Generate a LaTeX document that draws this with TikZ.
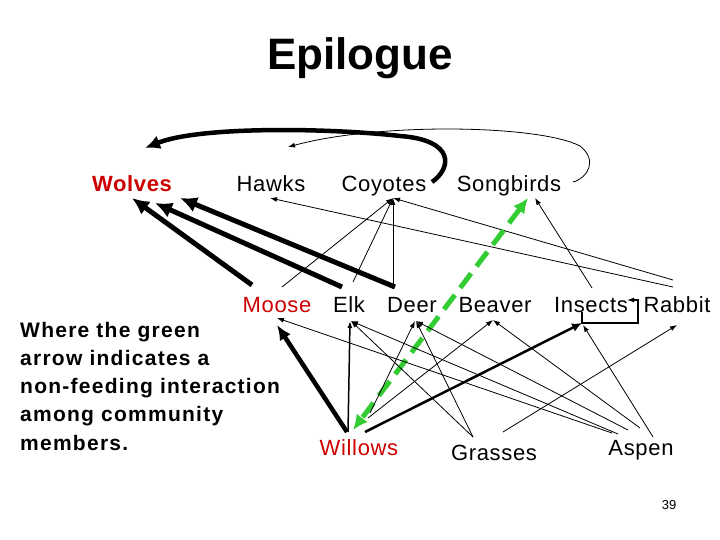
\documentclass[tikz,border=0pt]{standalone}
\usepackage{fontspec}
\setmainfont{Liberation Sans}
\newfontfamily\labelfont[LetterSpace=3]{Liberation Sans}
\newfontfamily\notefont[LetterSpace=6]{Liberation Sans}
\usepackage{tikz}
\usetikzlibrary{arrows.meta}
\usetikzlibrary{calc}
\definecolor{webred}{RGB}{204,0,0}
\definecolor{webgreen}{RGB}{51,204,51}
\tikzset{
    species/.style={anchor=base, inner sep=0pt, font=\labelfont\fontsize{22}{26}\selectfont},
    keyspecies/.style={species, text=webred},
    eats/.style={draw=black, line width=0.8pt, -{Latex[length=7pt,width=5pt]}},
    midEats/.style={draw=black, line width=2.5pt, -{Latex[length=10pt,width=9pt]}},
    bigEats/.style={draw=black, line width=5pt, -{Latex[length=17pt,width=16pt]}},
    nonfeeding/.style={draw=webgreen, line width=5pt, dash pattern=on 18pt off 9pt,
        {Latex[length=15pt,width=14pt]}-{Latex[length=15pt,width=14pt]}},
}

\begin{document}
\begin{tikzpicture}[x=1pt, y=-1pt]
\useasboundingbox (0,0) rectangle (720,540);
\node[anchor=base, font=\bfseries\fontsize{44}{50}\selectfont] (title) at (360,70) {Epilogue};
% top row
\node[keyspecies, font=\labelfont\bfseries\fontsize{22}{26}\selectfont] (wolves) at (132,192) {Wolves};
\node[species] (hawks) at (271,192) {Hawks};
\node[species] (coyotes) at (384,192) {Coyotes};
\node[species] (songbirds) at (509,192) {Songbirds};
% middle row
\node[keyspecies] (moose) at (277,312) {Moose};
\node[species] (elk) at (349,312) {Elk};
\node[species] (deer) at (412,312) {Deer};
\node[species] (beaver) at (495,312) {Beaver};
\node[species] (insects) at (591,312) {Insects};
\node[species] (rabbit) at (677,312) {Rabbit};
% plants
\node[keyspecies] (willows) at (359,455) {Willows};
\node[species] (grasses) at (494,460) {Grasses};
\node[species] (aspen) at (641,455) {Aspen};
\node[anchor=base west, inner sep=0pt, align=left, font=\notefont\bfseries\fontsize{21}{28.2}\selectfont] (note) at (20,450)
    {Where the green\\arrow indicates a\\non-feeding interaction\\among community\\members.};
\node[anchor=base, font=\fontsize{13}{15}\selectfont] (page) at (669,509) {39};

% wolves
\draw[bigEats] ($(moose.base)+(-25,-27)$) -- ($(wolves.base)+(0,6)$);
\draw[bigEats] ($(elk.base)+(-7,-25)$) -- ($(wolves.base)+(23,11)$);
\draw[bigEats] ($(deer.base)+(-17,-25)$) -- ($(wolves.base)+(48,6)$);
\draw[line width=4.5pt, -{Latex[length=15pt,width=14pt]}] ($(coyotes.base)+(48,-10)$)
    .. controls (452,168) and (455,140) .. (400,136)
    .. controls (330,128) and (200,126) .. ($(wolves.base)+(13,-44)$);
% coyotes and hawks
\draw[eats] ($(moose.base)+(5,-25)$) -- ($(coyotes.base)+(9,6)$);
\draw[eats] ($(elk.base)+(4,-30)$) -- ($(coyotes.base)+(9,6)$);
\draw[eats] ($(deer.base)+(-19,-27)$) -- ($(coyotes.base)+(9,6)$);
\draw[eats] ($(rabbit.base)+(-4,-32)$) -- ($(coyotes.base)+(9,6)$);
\draw[eats] ($(rabbit.base)+(-4,-25)$) -- ($(hawks.base)+(-1,6)$);
\draw[eats] ($(songbirds.base)+(64,-10)$)
    .. controls (588,178) and (598,160) .. (580,146)
    .. controls (540,125) and (380,122) .. ($(hawks.base)+(17,-45)$);
\draw[eats] ($(insects.base)+(1,-24)$) -- ($(songbirds.base)+(26,6)$);
\draw[nonfeeding] ($(songbirds.base)+(19,6)$) -- ($(willows.base)+(-6,-25)$);
% herbivores
\draw[line width=4.5pt, -{Latex[length=15pt,width=13pt]}] ($(willows.base)+(-12,-23)$) -- ($(moose.base)+(0,13)$);
\draw[eats, line width=1.5pt] ($(willows.base)+(-11,-23)$) -- ($(elk.base)+(1,9)$);
\draw[eats] ($(willows.base)+(11,-42)$) -- ($(deer.base)+(3,9)$);
\draw[eats] ($(willows.base)+(9,-37)$) -- ($(beaver.base)+(-2,8)$);
\draw[midEats] ($(willows.base)+(6,-23)$) -- ($(insects.base)+(-9,11)$);
\draw[eats] ($(grasses.base)+(-21,-23)$) -- ($(elk.base)+(2,9)$);
\draw[eats] ($(grasses.base)+(-21,-23)$) -- ($(deer.base)+(4,9)$);
\draw[eats] ($(grasses.base)+(9,-28)$) -- ($(rabbit.base)+(0,13)$);
\draw[eats] ($(aspen.base)+(-29,-22)$) -- ($(moose.base)+(0,6)$);
\draw[eats] ($(aspen.base)+(-23,-21)$) -- ($(elk.base)+(2,9)$);
\draw[eats] ($(aspen.base)+(-13,-25)$) -- ($(deer.base)+(4,9)$);
\draw[eats] ($(aspen.base)+(-1,-27)$) -- ($(beaver.base)+(-2,8)$);
\draw[eats] ($(aspen.base)+(12,-18)$) -- ($(insects.base)+(-8,13)$);
\draw[eats, line width=1.2pt] ($(insects.base)+(-9,0)$) |- ($(insects.base)+(47,11)$)
    |- ($(insects.base)+(36,-12)$);
\end{tikzpicture}
\end{document}
